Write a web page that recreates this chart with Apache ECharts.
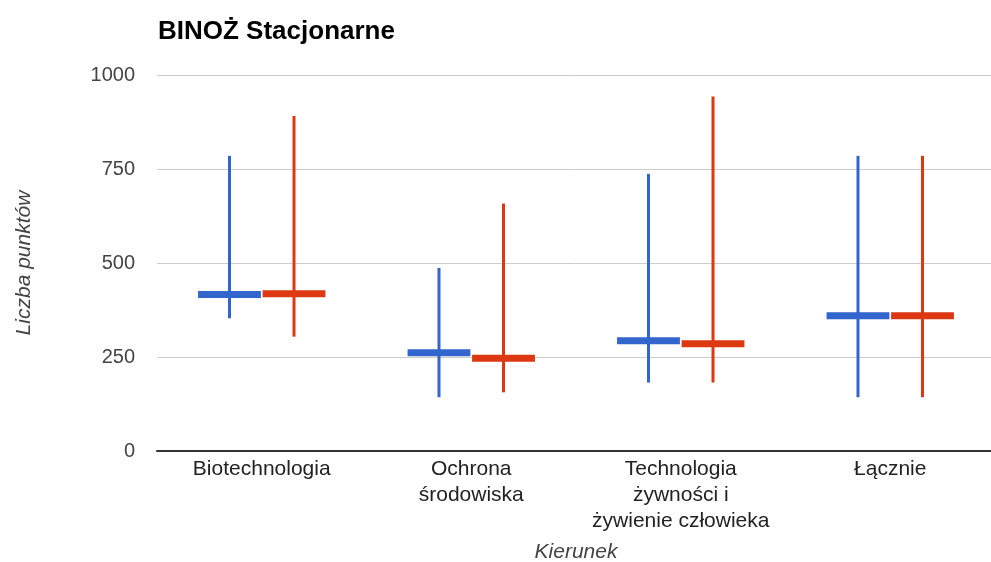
<!DOCTYPE html>
<html>
<head>
<meta charset="utf-8">
<script src="https://cdn.jsdelivr.net/npm/echarts@6/dist/echarts.min.js"></script>
<style>
  html, body { margin: 0; padding: 0; background: #fff; }
  #chart { width: 991px; height: 562px; }
</style>
</head>
<body>
<div id="chart"></div>
<script>
// kierunki (kategorie)
var categories = ['Biotechnologia', 'Ochrona\nśrodowiska', 'Technologia\nżywności i\nżywienie człowieka', 'Łącznie'];
// seria niebieska: min, środek, max
var blueLow  = [353, 143, 182, 143];
var blueMid  = [416, 261, 293, 360];
var blueHigh = [785, 487, 737, 785];
// seria czerwona: min, środek, max
var redLow  = [304, 156, 182, 143];
var redMid  = [418, 247, 285, 360];
var redHigh = [891, 658, 943, 785];
var yTicks = [0, 250, 500, 750, 1000];

function rows(low, mid, high) {
    return categories.map(function (c, i) { return [i, low[i], mid[i], high[i]]; });
}

// rysowanie świecy: pionowa linia min-max + krótki pasek w środku
function candle(color, side) {
    return function (params, api) {
        var i = api.value(0);
        var lo = api.coord([i, api.value(1)]);
        var md = api.coord([i, api.value(2)]);
        var hi = api.coord([i, api.value(3)]);
        var band = api.size([1, 0])[0];
        var x = lo[0] + side * band * 0.154;
        var w = band * 0.3;
        return {
            type: 'group',
            children: [
                { type: 'line', shape: { x1: x, y1: lo[1], x2: x, y2: hi[1] },
                  style: { stroke: color, lineWidth: 3 } },
                { type: 'rect', shape: { x: x - w / 2, y: md[1] - 3.5, width: w, height: 7 },
                  style: { fill: color } }
            ]
        };
    };
}

var myChart = echarts.init(document.getElementById('chart'));
var option = {
    animation: false,
    title: {
        text: 'BINOŻ Stacjonarne',
        left: 153,
        top: 14,
        textStyle: { fontFamily: 'Liberation Sans', fontSize: 26, fontWeight: 'bold', color: '#000' }
    },
    grid: { left: 157, top: 75, width: 838, height: 376, outerBoundsMode: 'none' },
    xAxis: {
        type: 'category',
        data: categories,
        name: 'Kierunek',
        nameLocation: 'middle',
        nameGap: 91,
        nameMoveOverlap: false,
        nameTextStyle: { fontFamily: 'Liberation Sans', fontSize: 21, fontStyle: 'italic', color: '#444' },
        axisTick: { show: false },
        axisLine: { lineStyle: { color: '#333', width: 2 } },
        axisLabel: {
            margin: 5,
            interval: 0,
            fontFamily: 'Liberation Sans',
            fontSize: 21,
            lineHeight: 26,
            color: '#222'
        },
        splitLine: { show: false }
    },
    yAxis: {
        type: 'value',
        min: yTicks[0],
        max: yTicks[yTicks.length - 1],
        interval: 250,
        name: 'Liczba punktów',
        nameLocation: 'middle',
        nameGap: 122,
        nameMoveOverlap: false,
        nameTextStyle: { fontFamily: 'Liberation Sans', fontSize: 21, fontStyle: 'italic', color: '#444' },
        axisLine: { show: false },
        axisTick: { show: false },
        axisLabel: {
            margin: 22,
            fontFamily: 'Liberation Sans',
            fontSize: 20,
            color: '#444',
            formatter: function (v) { return String(v); }
        },
        splitLine: { lineStyle: { color: '#ccc', width: 1 } }
    },
    series: [
        {
            name: 'Seria 1',
            type: 'custom',
            renderItem: candle('#3366cc', -1),
            encode: { x: 0, y: [1, 2, 3] },
            data: rows(blueLow, blueMid, blueHigh)
        },
        {
            name: 'Seria 2',
            type: 'custom',
            renderItem: candle('#dc3912', 1),
            encode: { x: 0, y: [1, 2, 3] },
            data: rows(redLow, redMid, redHigh)
        }
    ]
};
window.onresize = myChart.resize;
myChart.setOption(option);
</script>
</body>
</html>
